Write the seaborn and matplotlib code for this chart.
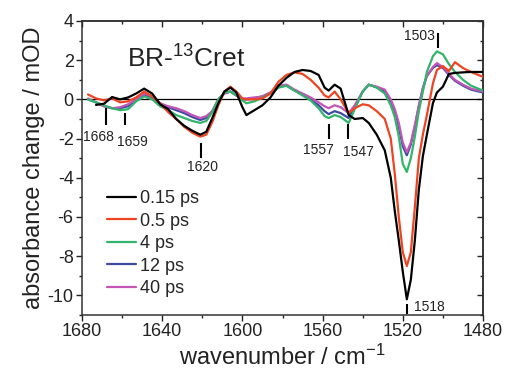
import numpy as np
import pandas as pd
import matplotlib
matplotlib.use("Agg")
import matplotlib.pyplot as plt
import seaborn as sns
from matplotlib.ticker import MultipleLocator

# ---------------- data ----------------
wavenumber = [1677, 1673, 1669, 1665, 1661, 1657, 1653, 1649, 1645, 1641,
              1637, 1633, 1629, 1625, 1621, 1618, 1615, 1612, 1609, 1606,
              1603, 1600, 1598, 1594, 1590, 1586, 1582, 1578, 1574, 1570,
              1566, 1562, 1559, 1557, 1554, 1551, 1547, 1544, 1540, 1537,
              1533, 1529, 1526, 1524, 1522, 1520, 1518, 1516, 1514, 1512,
              1510, 1508, 1505, 1503, 1500, 1497, 1494, 1490, 1486, 1480]

delay_labels = ["0.15 ps", "0.5 ps", "4 ps", "12 ps", "40 ps"]

ps_015 = [np.nan, -0.28, -0.22, 0.12, 0.0, 0.1, 0.3, 0.55, 0.3, -0.25,
          -0.5, -1.0, -1.35, -1.6, -1.8, -1.65, -0.95, -0.2, 0.4, 0.6,
          0.35, -0.4, -0.8, -0.55, -0.3, 0.1, 0.7, 1.1, 1.4, 1.5,
          1.45, 1.25, 0.6, 0.45, 0.75, 0.55, -0.8, -1.0, -0.95, -1.2,
          -1.8, -2.6, -4.0, -5.7, -7.2, -8.8, -10.2, -9.2, -7.2, -4.6,
          -2.9, -1.8, -0.2, 0.35, 0.65, 1.3, 1.35, 1.38, 1.4, 1.4]

ps_05 = [0.25, 0.05, -0.05, 0.05, -0.15, -0.1, 0.1, 0.4, 0.15, -0.2,
         -0.65, -1.0, -1.4, -1.7, -1.9, -1.8, -1.15, -0.3, 0.4, 0.65,
         0.4, 0.05, 0.0, 0.0, 0.05, 0.3, 0.9, 1.25, 1.38, 1.3,
         1.0, 0.6, 0.2, 0.1, 0.4, 0.0, -0.7, -0.45, -0.25, -0.3,
         -0.6, -1.0, -2.0, -3.8, -6.0, -7.8, -8.5, -7.8, -5.5, -3.0,
         -1.8, -0.8, 0.8, 1.5, 1.7, 1.45, 1.9, 1.6, 1.4, 1.15]

ps_4 = [0.0, -0.15, -0.3, -0.45, -0.55, -0.5, -0.1, 0.15, 0.0, -0.35,
        -0.55, -0.8, -0.95, -1.1, -1.2, -1.1, -0.65, 0.0, 0.35, 0.4,
        0.2, -0.05, -0.2, -0.1, 0.1, 0.3, 0.6, 0.7, 0.45, 0.2,
        -0.05, -0.45, -0.85, -0.95, -0.8, -0.9, -1.2, -0.5, 0.4, 0.75,
        0.6, 0.3, -0.3, -0.9, -1.9, -3.3, -3.7, -3.0, -1.9, -0.6,
        0.4, 1.4, 2.2, 2.45, 2.3, 1.8, 1.4, 1.0, 0.7, 0.45]

ps_12 = [0.0, -0.15, -0.35, -0.45, -0.45, -0.35, -0.05, 0.25, 0.1, -0.25,
         -0.4, -0.55, -0.7, -0.9, -1.05, -0.95, -0.6, 0.0, 0.3, 0.4,
         0.2, 0.0, 0.0, 0.05, 0.15, 0.35, 0.65, 0.7, 0.45, 0.25,
         0.0, -0.3, -0.6, -0.75, -0.6, -0.7, -0.95, -0.4, 0.4, 0.75,
         0.62, 0.4, -0.1, -0.6, -1.4, -2.4, -2.85, -2.3, -1.4, -0.35,
         0.55, 1.2, 1.6, 1.75, 1.6, 1.25, 0.95, 0.7, 0.5, 0.35]

ps_40 = [0.05, -0.15, -0.35, -0.45, -0.4, -0.25, 0.0, 0.3, 0.15, -0.2,
         -0.35, -0.45, -0.6, -0.8, -0.95, -0.85, -0.6, 0.0, 0.3, 0.4,
         0.2, 0.05, 0.05, 0.1, 0.15, 0.35, 0.7, 0.75, 0.5, 0.3,
         0.1, -0.15, -0.35, -0.45, -0.3, -0.4, -0.7, -0.3, 0.4, 0.75,
         0.65, 0.5, 0.0, -0.5, -1.2, -2.2, -2.7, -2.2, -1.3, -0.3,
         0.6, 1.2, 1.65, 1.85, 1.65, 1.3, 1.0, 0.75, 0.55, 0.4]

series_values = [ps_015, ps_05, ps_4, ps_12, ps_40]
series_colors = ["#000000", "#ee4422", "#33b46c", "#3d4ca0", "#c455b6"]

# peak annotations: label, tick x, tick y0, tick y1, text x, text y
peak_labels = ["1668", "1659", "1620", "1557", "1547", "1503", "1518"]
peak_tick_x = [1668, 1658.5, 1620.5, 1557, 1547.2, 1502.7, 1517.7]
peak_tick_y0 = [-0.45, -0.7, -2.25, -1.23, -1.23, 2.63, -10.45]
peak_tick_y1 = [-1.3, -1.3, -3.0, -2.0, -2.0, 3.4, -10.96]
peak_text_x = [1671.8, 1655.0, 1620.0, 1562.2, 1542.3, 1511.8, 1506.8]
peak_text_y = [-1.9, -2.15, -3.44, -2.6, -2.67, 3.25, -10.6]

# ---------------- build long table ----------------
frames = []
for lab, vals in zip(delay_labels, series_values):
    frames.append(pd.DataFrame({"wavenumber": wavenumber, "dA": vals, "delay": lab}))
df = pd.concat(frames, ignore_index=True).dropna()

# ---------------- style ----------------
sns.set_style("ticks")
plt.rcParams["font.family"] = ["Liberation Sans", "DejaVu Sans"]
plt.rcParams["mathtext.default"] = "regular"
plt.rcParams["axes.unicode_minus"] = False

fig = plt.figure(figsize=(5.07, 3.77), dpi=100)
ax = fig.add_axes([0.1617, 0.1645, 0.791, 0.7798])

ax.axhline(0, color="black", lw=0.9, zorder=1)

palette = dict(zip(delay_labels, series_colors))
draw_order = ["12 ps", "40 ps", "4 ps", "0.5 ps", "0.15 ps"]
for z, lab in enumerate(draw_order):
    sub = df[df["delay"] == lab]
    sns.lineplot(data=sub, x="wavenumber", y="dA", color=palette[lab],
                 lw=1.6, ax=ax, zorder=3 + z, label=lab, legend=False)

ax.set_xlim(1680, 1480)
ax.set_ylim(-11, 4)
ax.xaxis.set_major_locator(MultipleLocator(40))
ax.xaxis.set_minor_locator(MultipleLocator(20))
ax.yaxis.set_major_locator(MultipleLocator(2))
ax.yaxis.set_minor_locator(MultipleLocator(1))
ax.tick_params(which="major", direction="out", length=4, width=1.0,
               labelsize=13, pad=2, colors="#222222", labelcolor="#222222")
ax.tick_params(which="minor", direction="out", length=2.5, width=1.0)

for s in ax.spines.values():
    s.set_linewidth(1.1)
    s.set_color("#333333")

# mirrored inward ticks on top and right
top = ax.secondary_xaxis("top")
top.xaxis.set_major_locator(MultipleLocator(40))
top.xaxis.set_minor_locator(MultipleLocator(20))
top.tick_params(which="both", direction="in", labeltop=False, width=1.0)
top.tick_params(which="major", length=4)
top.tick_params(which="minor", length=2.5)
top.spines["top"].set_linewidth(1.1)
right = ax.secondary_yaxis("right")
right.yaxis.set_major_locator(MultipleLocator(2))
right.yaxis.set_minor_locator(MultipleLocator(1))
right.tick_params(which="both", direction="in", labelright=False, width=1.0)
right.tick_params(which="major", length=4)
right.tick_params(which="minor", length=2.5)
right.spines["right"].set_linewidth(1.1)

ax.set_xlabel("wavenumber / cm$^{-1}$", fontsize=17, labelpad=3, color="#222222")
ax.set_ylabel("absorbance change / mOD", fontsize=17, labelpad=2, color="#222222")

ax.text(1657.5, 1.6, "BR-$^{13}$Cret", fontsize=19, ha="left", va="baseline",
        color="#222222")

# peak markers
ax.vlines(peak_tick_x, peak_tick_y0, peak_tick_y1, colors="black", lw=1.5, zorder=10)
for lab, tx, ty in zip(peak_labels, peak_text_x, peak_text_y):
    ax.text(tx, ty, lab, fontsize=10, ha="center", va="center", color="#222222",
            zorder=10)

# legend in original order
handles = {h.get_label(): h for h in ax.get_lines() if h.get_label() in delay_labels}
leg = ax.legend([handles[l] for l in delay_labels], delay_labels,
                loc="upper left", bbox_to_anchor=(0.062, 0.424), frameon=False,
                fontsize=13, handlelength=1.6, handletextpad=0.25,
                labelspacing=0.3, borderpad=0, borderaxespad=0)
for line in leg.get_lines():
    line.set_linewidth(1.6)

fig.savefig("out.png", dpi=100)
